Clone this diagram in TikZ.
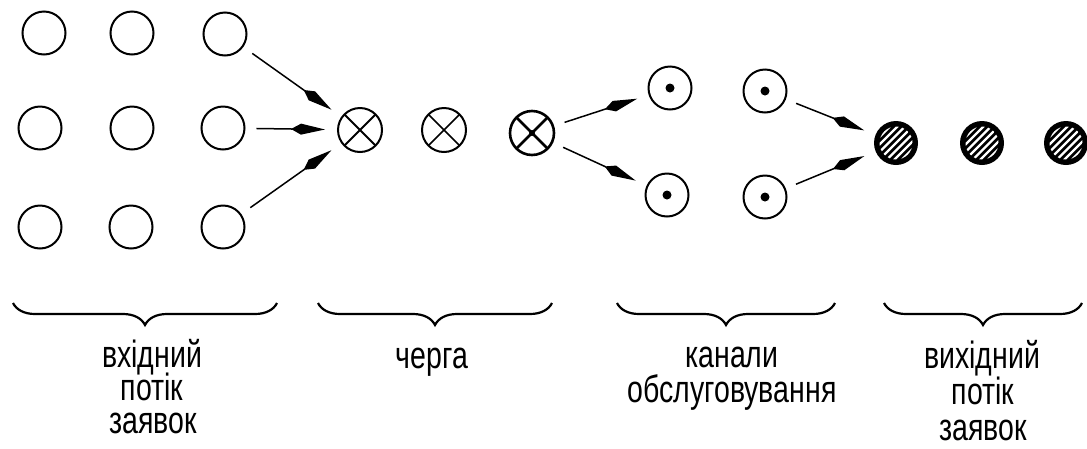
\documentclass[tikz,border=0pt]{standalone}
\usepackage{fontspec}
\newfontfamily\labfont[FakeStretch=0.75]{Liberation Sans}
\usetikzlibrary{arrows.meta,decorations.pathreplacing}
\tikzset{
  inc/.style={circle, draw, line width=2pt, minimum size=43pt, inner sep=0pt},
  que/.style={inc, minimum size=44pt, path picture={
      \draw[line width=#1]
        (path picture bounding box.north west) -- (path picture bounding box.south east)
        (path picture bounding box.north east) -- (path picture bounding box.south west);}},
  chan/.style={inc, path picture={\fill (path picture bounding box.center) circle (4.5pt);}},
  outc/.style={circle, fill=black, minimum size=44pt, inner sep=0pt, path picture={
      \begin{scope}[shift={(path picture bounding box.center)}]
        \clip (0,0) circle (16.5pt);
        \foreach \k in {-5,...,5}
          \draw[white, line width=2.4pt] (\k*7.5-25,-25) -- (\k*7.5+25,25);
      \end{scope}}},
  arr/.style={-{Kite[length=34pt,width=11pt,inset=10pt]}, line width=1.5pt,
      shorten <=11pt, shorten >=12pt},
  brc/.style={decorate, decoration={brace, amplitude=22pt}, line width=2.2pt},
  lab/.style={font=\labfont\fontsize{38}{40}\selectfont, inner sep=0pt, anchor=base}
}
\begin{document}
\begin{tikzpicture}[x=1pt,y=1pt]
\useasboundingbox (0,0) rectangle (1087,-448);
% input flow
\node[inc] (i11) at (44,-33) {};
\node[inc] (i12) at (132,-33) {};
\node[inc] (i13) at (225,-34) {};
\node[inc] (i21) at (40,-128) {};
\node[inc] (i22) at (132,-128) {};
\node[inc] (i23) at (223,-128) {};
\node[inc] (i31) at (40,-227) {};
\node[inc] (i32) at (131,-227) {};
\node[inc] (i33) at (223,-227) {};
% queue
\node[que=1.8pt] (q1) at (360,-130) {};
\node[que=1.6pt] (q2) at (444,-130) {};
\node[que=2.6pt, line width=2.6pt] (q3) at (532,-133) {};
\fill (q3.center) circle (3pt);
% channels
\node[chan] (c1) at (670,-88) {};
\node[chan] (c2) at (765,-91) {};
\node[chan] (c3) at (667,-195) {};
\node[chan] (c4) at (765,-197) {};
% output flow
\node[outc] (o1) at (896,-143) {};
\node[outc] (o2) at (982,-143) {};
\node[outc] (o3) at (1066,-143) {};
% arrows
\draw[arr] (i13) -- (q1);
\draw[arr] (i23) -- (q1);
\draw[arr] (i33) -- (q1);
\draw[arr] (q3) -- (c1);
\draw[arr] (q3) -- (c3);
\draw[arr] (c2) -- (o1);
\draw[arr] (c4) -- (o1);
% braces
\draw[brc] (277,-303) -- (13,-303);
\draw[brc] (552,-303) -- (318,-303);
\draw[brc] (835,-303) -- (617,-303);
\draw[brc] (1082,-303) -- (884,-303);
% labels
\node[lab] (l1a) at (152,-367) {вхідний};
\node[lab] (l1b) at (152,-400) {потік};
\node[lab] (l1c) at (153,-433) {заявок};
\node[lab] (l2) at (432,-368) {черга};
\node[lab] (l3a) at (732,-367) {канали};
\node[lab] (l3b) at (732,-402) {обслуговування};
\node[lab] (l4a) at (982,-368) {вихідний};
\node[lab] (l4b) at (983,-404) {потік};
\node[lab] (l4c) at (983,-440) {заявок};
\end{tikzpicture}
\end{document}
